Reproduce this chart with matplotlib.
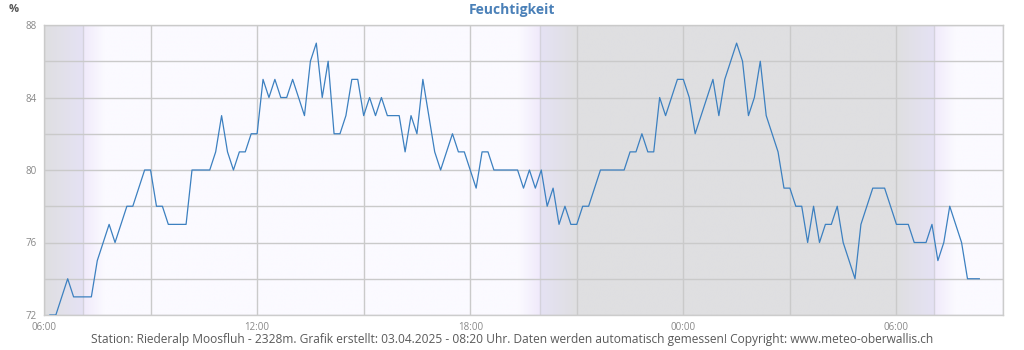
import matplotlib.pyplot as plt
import matplotlib.colors as mcolors
import numpy as np

plt.rcParams['font.family'] = ['Open Sans', 'DejaVu Sans']

# Humidity readings every 10 minutes, first one at 06:10
start_hour = 6 + 10 / 60
step_min = 10
humidity = [
    72, 72, 73, 74, 73, 73, 73, 73, 75, 76, 77, 76, 77, 78, 78, 79, 80, 80, 78, 78,
    77, 77, 77, 77, 80, 80, 80, 80, 81, 83, 81, 80, 81, 81, 82, 82, 85, 84, 85, 84,
    84, 85, 84, 83, 86, 87, 84, 86, 82, 82, 83, 85, 85, 83, 84, 83, 84, 83, 83, 83,
    81, 83, 82, 85, 83, 81, 80, 81, 82, 81, 81, 80, 79, 81, 81, 80, 80, 80, 80, 80,
    79, 80, 79, 80, 78, 79, 77, 78, 77, 77, 78, 78, 79, 80, 80, 80, 80, 80, 81, 81,
    82, 81, 81, 84, 83, 84, 85, 85, 84, 82, 83, 84, 85, 83, 85, 86, 87, 86, 83, 84,
    86, 83, 82, 81, 79, 79, 78, 78, 76, 78, 76, 77, 77, 78, 76, 75, 74, 77, 78, 79,
    79, 79, 78, 77, 77, 77, 76, 76, 76, 77, 75, 76, 78, 77, 76, 74, 74, 74,
]

# hours since midnight of the first day
x_start = 6
x_end = 33
sunrise_1 = 7 + 6 / 60
sunset = 19 + 58 / 60
sunrise_2 = 31 + 4 / 60

y_min = 72
y_max = 88
y_ticks = [72, 74, 76, 78, 80, 82, 84, 86, 88]
y_labels = ['72', '', '76', '', '80', '', '84', '', '88']
x_ticks = [6, 9, 12, 15, 18, 21, 24, 27, 30, 33]
x_labels = ['06:00', '', '12:00', '', '18:00', '', '00:00', '', '06:00', '']

title = 'Feuchtigkeit'
unit = '%'
footer = ('Station: Riederalp Moosfluh - 2328m. Grafik erstellt: 03.04.2025 - 08:20 Uhr. '
          'Daten werden automatisch gemessen! Copyright: www.meteo-oberwallis.ch')

times = start_hour + np.arange(len(humidity)) * step_min / 60

# day / twilight / night colours
night = mcolors.to_rgb('#dfdfe1')
dusk_dark = mcolors.to_rgb('#e5e2f4')
dusk_light = mcolors.to_rgb('#f0eafb')
day = mcolors.to_rgb('#fbfaff')
twilight = 1.05   # grey fades in over about an hour
glow = 0.6        # lavender fades out after sunrise
eps = 0.01

stops = [
    (x_start, night),
    (sunrise_1 - eps, dusk_dark),
    (sunrise_1 + eps, dusk_light),
    (sunrise_1 + glow, day),
    (sunset - glow, day),
    (sunset - eps, dusk_light),
    (sunset + eps, dusk_dark),
    (sunset + twilight, night),
    (sunrise_2 - twilight, night),
    (sunrise_2 - eps, dusk_dark),
    (sunrise_2 + eps, dusk_light),
    (sunrise_2 + glow, day),
    (x_end, day),
]
stop_t = [s[0] for s in stops]
cols = np.linspace(x_start, x_end, 2000)
strip = np.stack([np.interp(cols, stop_t, [s[1][c] for s in stops]) for c in range(3)], axis=-1)
img = strip[np.newaxis, :, :]

fig = plt.figure(figsize=(10.24, 3.5), dpi=100)
ax = fig.add_axes([44 / 1024, 35 / 350, 959 / 1024, 290 / 350])

ax.imshow(img, extent=[x_start, x_end, y_min, y_max], aspect='auto',
          interpolation='bilinear', zorder=0)

for t in [sunrise_1, sunset, sunrise_2]:
    ax.axvline(t, color='#d4d2dc', lw=1, zorder=1)

ax.plot(times, humidity, color='#3c80c0', lw=0.9, zorder=3)

ax.set_xlim(x_start, x_end)
ax.set_ylim(y_min, y_max)
ax.set_xticks(x_ticks)
ax.set_xticklabels(x_labels)
ax.set_yticks(y_ticks)
ax.set_yticklabels(y_labels)
ax.grid(True, color='#cacaca', lw=1, zorder=2)
ax.set_axisbelow(False)
ax.tick_params(length=0, labelsize=7, labelcolor='#888888', pad=5)
for s in ax.spines.values():
    s.set_color('#cccccc')
    s.set_linewidth(1)

fig.text(0.5, 1 - 10 / 350, title, ha='center', va='center', fontsize=10,
         fontweight='bold', color='#4a80b8')
fig.text(14 / 1024, 1 - 10 / 350, unit, ha='center', va='center', fontsize=8,
         fontweight='bold', color='#555555')
fig.text(512 / 1024, 1 - 340 / 350, footer, ha='center', va='center',
         fontsize=8.65, color='#5a5a5a')

fig.savefig('out.png', dpi=100)
